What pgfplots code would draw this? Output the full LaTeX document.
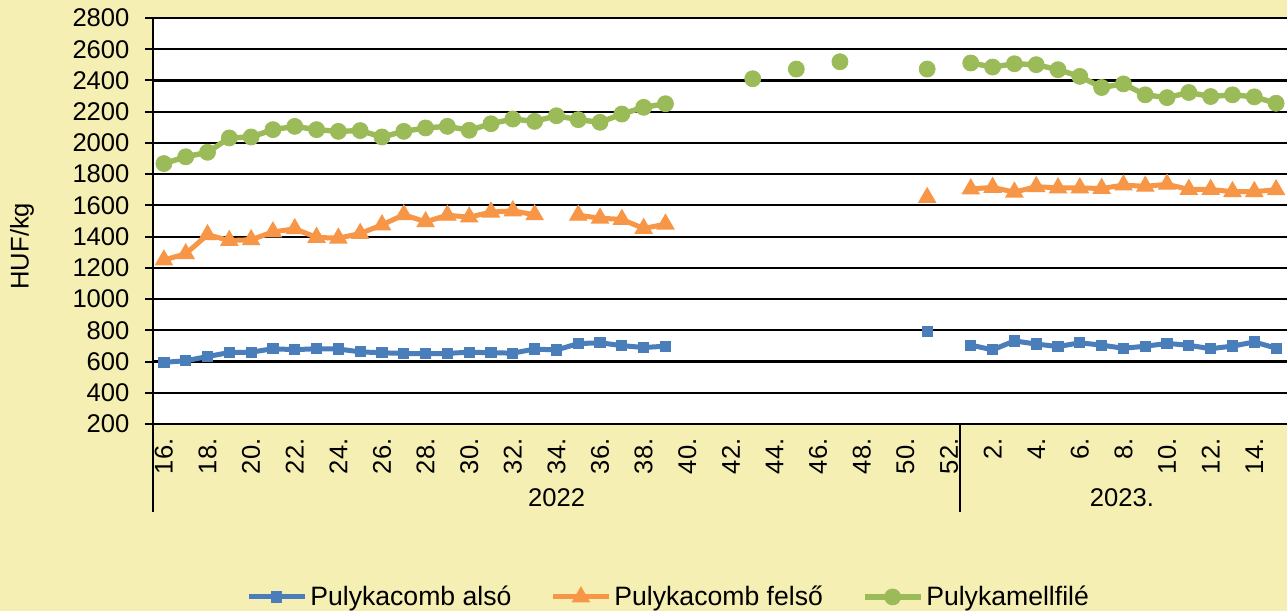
\documentclass[border=0pt]{standalone}
\usepackage{pgfplots}
\pgfplotsset{compat=1.18}
\usepackage{pgfplotstable}
\usepackage{fontspec}
\setmainfont{Liberation Sans}
\definecolor{bg}{RGB}{245,239,180}
\definecolor{cblue}{RGB}{74,126,187}
\definecolor{corange}{RGB}{247,150,70}
\definecolor{cgreen}{RGB}{155,187,89}
\pgfplotstableread{
i also felso mell
0 595 1250 1868
1 605 1290 1911
2 632 1412 1940
3 658 1375 2032
4 660 1380 2038
5 682 1430 2085
6 676 1450 2106
7 682 1395 2085
8 680 1390 2074
9 662 1420 2079
10 656 1475 2038
11 652 1540 2074
12 650 1495 2096
13 652 1537 2106
14 660 1525 2081
15 656 1557 2123
16 654 1565 2153
17 680 1540 2138
18 674 nan 2174
19 715 1537 2149
20 720 1518 2132
21 702 1510 2185
22 690 1452 2228
23 698 1480 2251
24 nan nan nan
25 nan nan nan
26 nan nan nan
27 nan nan 2411
28 nan nan nan
29 nan nan 2473
30 nan nan nan
31 nan nan 2520
32 nan nan nan
33 nan nan nan
34 nan nan nan
35 790 1650 2473
36 nan nan nan
37 705 1705 2512
38 675 1715 2486
39 732 1685 2507
40 712 1720 2501
41 696 1712 2469
42 720 1712 2426
43 705 1708 2355
44 685 1730 2378
45 698 1722 2308
46 716 1735 2290
47 704 1702 2323
48 682 1702 2297
49 699 1688 2308
50 725 1688 2295
51 686 1700 2254
}\datatable
\begin{document}
\begin{tikzpicture}
\fill[bg] (-76.5bp,-93.5bp) rectangle (567bp,212bp);
\begin{axis}[
  at={(0,0)}, anchor=south west,
  scale only axis, width=567bp, height=203bp,
  axis background/.style={fill=white},
  xmin=-0.5, xmax=51.5, ymin=200, ymax=2800,
  ytick={200,400,...,2800},
  xtick={0,2,...,36,38,40,...,50},
  xticklabels={16.,18.,20.,22.,24.,26.,28.,30.,32.,34.,36.,38.,40.,42.,44.,46.,48.,50.,52.,2.,4.,6.,8.,10.,12.,14.},
  unbounded coords=jump,
  axis x line*=bottom, axis y line*=left,
  axis line style={-, black, line width=1bp},
  ymajorgrids, grid style={black, line width=1.1bp},
  tick align=center, major tick length=7.5bp,
  ytick style={black, line width=1bp},
  xtick style={draw=none},
  /pgf/number format/assume math mode=true,
  /pgf/number format/1000 sep={},
  ticklabel style={font=\fontsize{12.8bp}{15bp}\selectfont},
  yticklabel style={xshift=-4.5bp},
  xticklabel style={rotate=90, anchor=east},
  ylabel={HUF/kg},
  every axis y label/.style={at={(axis description cs:-0.1155,0.438)}, rotate=90, anchor=center, font=\fontsize{12.8bp}{15bp}\selectfont},
  clip=false,
  legend columns=3,
  legend style={at={(axis description cs:0.0767,-0.426)}, anchor=west, draw=none, fill=none,
    font=\fontsize{13.3bp}{15bp}\selectfont, nodes={inner sep=1.5bp},
    /tikz/every even column/.append style={column sep=18bp}},
  legend image code/.code={\draw[mark repeat=2,mark phase=2,#1] plot coordinates {(0bp,0bp) (14bp,0bp) (28bp,0bp)};},
]
\addplot[cblue, line width=2.5bp, mark=square*, mark size=2.4bp, mark options={solid, line width=0.8bp}] table[x=i,y=also] {\datatable};
\addlegendentry{Pulykacomb alsó}
\addplot[corange, line width=2.5bp, mark=triangle*, mark size=4.8bp, mark options={solid, line width=0.6bp}] table[x=i,y=felso] {\datatable};
\addlegendentry{Pulykacomb felső}
\addplot[cgreen, line width=2.7bp, mark=*, mark size=4bp, mark options={solid, line width=0.4bp}] table[x=i,y=mell] {\datatable};
\addlegendentry{Pulykamellfilé}
\draw[black, line width=1bp] (axis description cs:0,0) -- (axis description cs:0,-0.2167);
\draw[black, line width=1bp] (axis description cs:0.7115,0) -- (axis description cs:0.7115,-0.2167);
\node[font=\fontsize{12.8bp}{15bp}\selectfont] at (axis description cs:0.356,-0.182) {2022};
\node[font=\fontsize{12.8bp}{15bp}\selectfont] at (axis description cs:0.8545,-0.182) {2023.};
\end{axis}
\pgfresetboundingbox
\useasboundingbox (-76.5bp,-93.5bp) rectangle (567bp,212bp);
\end{tikzpicture}
\end{document}
